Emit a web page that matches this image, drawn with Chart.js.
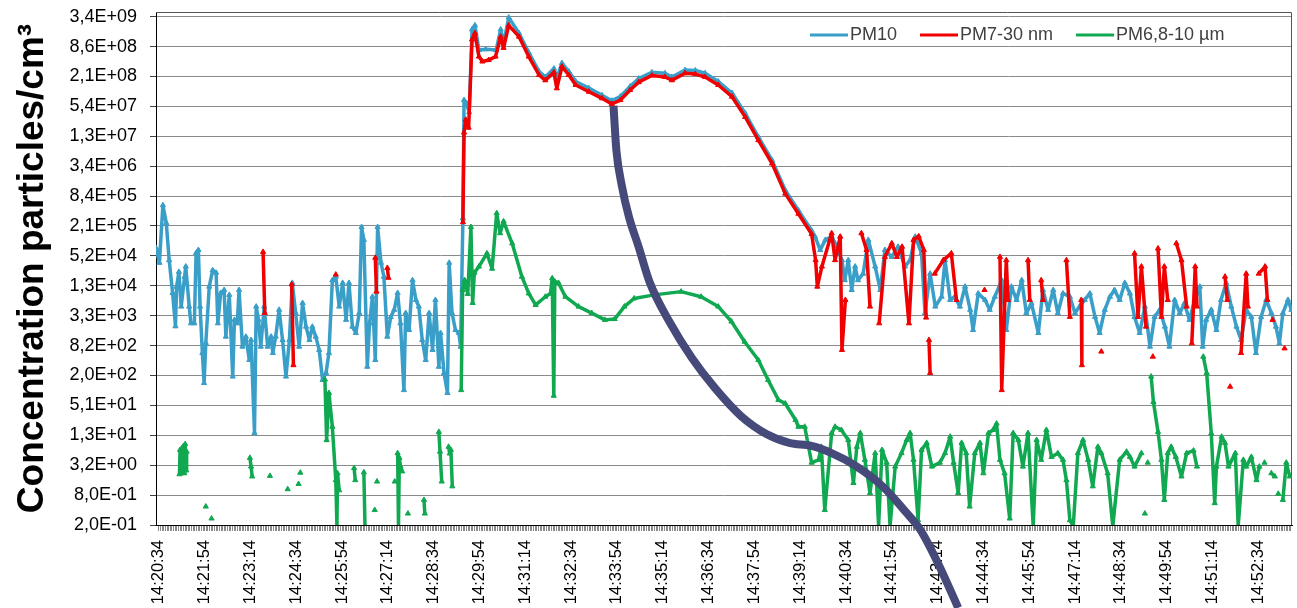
<!DOCTYPE html>
<html><head><meta charset="utf-8">
<script src="https://cdn.jsdelivr.net/npm/chart.js"></script>
<style>html,body{margin:0;padding:0;background:#fff;}canvas{display:block;}</style>
</head><body>
<canvas id="c" width="1297" height="608"></canvas>
<script>
// ---- data (x = seconds after 14:20:34, y = particles/cm3) ----
const timeLabels = ['14:20:34','14:21:54','14:23:14','14:24:34','14:25:54','14:27:14','14:28:34','14:29:54','14:31:14','14:32:34','14:33:54','14:35:14','14:36:34','14:37:54','14:39:14','14:40:34','14:41:54','14:43:14','14:44:34','14:45:54','14:47:14','14:48:34','14:49:54','14:51:14','14:52:34'];
const yTickValues = [0.2,0.8,3.2,12.8,51.2,204.8,819.2,3276.8,13107.2,52428.8,209715.2,838860.8,3355443.2,13421772.8,53687091.2,214748364.8,858993459.2,3435973836.8];
const yTickLabels = ['2,0E-01','8,0E-01','3,2E+00','1,3E+01','5,1E+01','2,0E+02','8,2E+02','3,3E+03','1,3E+04','5,2E+04','2,1E+05','8,4E+05','3,4E+06','1,3E+07','5,4E+07','2,1E+08','8,6E+08','3,4E+09'];
const seriesNames = ['PM10','PM7-30 nm','PM6,8-10 µm'];
const yTitle = 'Concentration particles/cm³';

const pm10 = [
[-5,7.6e4],[1,3.8e4],[7,5.5e5],[13,2.4e5],[18,4.3e4],[24,9.4e3],[29,2.0e3],[31,1.26e4],[35,2.5e4],[39,5.0e3],[45,2.0e4],[47,3.2e4],[53,5.0e3],[56,2.3e3],[62,2.3e3],[65,6.0e4],[69,6.9e4],[72,5.0e3],[76,580],[79,144],[82,925],[88,1.26e4],[94,2.7e4],[100,2.4e4],[103,2.3e3],[108,9.4e3],[114,1.08e4],[117,1.24e3],[123,8.6e3],[129,195],[132,2.7e3],[137,2.3e3],[140,1.08e4],[146,780],[152,1.24e3],[158,420],[161,1.06e3],[167,14.2],[170,5.0e3],[174,2.7e3],[178,780],[184,5.0e3],[190,780],[196,1.24e3],[199,580],[204,1.24e3],[210,4.3e3],[216,1.06e3],[222,195],[228,1.06e3],[233,1.5e4],[239,3.7e3],[245,780],[251,5.9e3],[257,1.97e3],[263,1.06e3],[268,1.97e3],[274,1.24e3],[280,670],[286,166],[292,230],[297,580],[303,1.7e4],[309,2.0e4],[315,5.0e3],[321,1.5e4],[327,2.7e3],[332,1.5e4],[338,1.97e3],[344,1.47e3],[350,3.7e3],[354,2.0e5],[358,1.1e5],[364,307],[368,2.3e3],[373,7.9e3],[378,420],[382,2.0e5],[388,3.8e4],[393,2.0e4],[399,1.24e3],[405,3.1e3],[411,4.3e3],[417,9.4e3],[422,2.3e3],[428,104],[431,3.7e3],[437,1.69e3],[443,1.7e4],[449,6.8e3],[454,5.0e3],[460,1.06e3],[466,420],[472,3.7e3],[478,670],[483,6.8e3],[489,307],[492,1.47e3],[498,230],[504,91],[507,3.8e4],[512,3.7e3],[518,1.69e3],[524,1.47e3],[527,780],
[531,3.0e5],[533,7.2e7],[537,6.3e7],[542,4.1e7],[547,1.9e9],[552,2.3e9],[559,7.3e8],[571,7.6e8],[589,7.3e8],[597,1.9e9],[602,1.0e9],[611,3.3e9],[629,1.6e9],[646,6.5e8],[664,2.7e8],[675,2.1e8],[690,3.1e8],[695,2.0e8],[704,4.0e8],[716,2.7e8],[728,1.7e8],[751,1.25e8],[774,9.0e7],[791,7.0e7],[806,8.5e7],[823,1.35e8],[838,1.95e8],[861,2.6e8],[884,2.5e8],[896,2.1e8],[919,2.9e8],[937,2.85e8],[954,2.5e8],[977,1.7e8],[1001,1.0e8],[1024,3.9e7],[1047,1.3e7],[1071,4.4e6],[1094,1.1e6],[1117,4.3e5],[1140,1.7e5],
[1146,1.28e5],[1155,6.9e4],[1164,1.1e5],[1175,1.28e5],[1181,9.4e4],[1193,4.3e4],[1198,1.7e4],[1204,4.3e4],[1210,1.08e4],[1216,3.2e4],[1221,1.7e4],[1230,2.3e4],[1239,1.1e5],[1251,3.2e4],[1260,1.08e4],[1268,6.9e4],[1280,5.0e4],[1291,8.0e4],[1303,3.2e4],[1312,4.3e4],[1321,1.28e5],[1332,5.9e4],[1338,3.7e3],[1347,2.3e4],[1356,5.0e3],[1367,7.9e3],[1373,4.3e4],[1382,6.8e3],[1390,7.9e3],[1399,5.0e3],[1408,1.26e4],[1417,4.3e3],[1422,1.69e3],[1431,9.2e3],[1443,6.8e3],[1451,4.3e3],[1460,7.9e3],[1472,1.7e4],[1480,1.69e3],[1489,1.26e4],[1498,6.8e3],[1507,1.7e4],[1515,3.7e3],[1524,5.8e3],[1536,1.47e3],[1544,1.08e4],[1553,4.3e3],[1562,1.08e4],[1570,3.7e3],[1579,9.2e3],[1591,7.9e3],[1600,3.7e3],[1608,5.0e3],[1617,6.8e3],[1626,9.2e3],[1635,3.1e3],[1643,1.47e3],[1652,4.3e3],[1661,7.9e3],[1669,1.08e4],[1678,6.8e3],[1687,1.5e4],[1696,9.2e3],[1704,3.1e3],[1713,1.47e3],[1722,5.0e3],[1731,780],[1739,3.1e3],[1748,4.3e3],[1757,1.97e3],[1765,780],[1774,6.8e3],[1783,3.7e3],[1791,5.8e3],[1800,2.7e3],[1809,6.8e3],[1818,1.26e4],[1823,780],[1829,2.7e3],[1838,4.3e3],[1847,1.69e3],[1855,6.8e3],[1864,1.5e4],[1873,5.0e3],[1882,1.97e3],[1890,1.06e3],[1899,4.3e3],[1908,3.1e3],[1916,580],[1925,3.1e3],[1934,6.8e3],[1943,3.7e3],[1951,1.97e3],[1957,910],[1963,3.7e3],[1972,6.8e3],[1978,4.3e3]
];

const pm7_30 = [
[182,6.3e4],[185,3.7e3],[186,null],
[232,1.4e4],[235,330],[236,null],
[309,2.2e4],[310,null],
[378,4.8e4],[380,1.0e4],[381,null],
[399,3.0e4],[401,1.9e4],[402,null],
[531,2.5e5],[533,1.6e7],[536,2.9e7],[541,2.0e7],[547,1.2e9],[552,1.6e9],[559,5.4e8],[565,4.3e8],[576,4.6e8],[588,5.4e8],[597,1.36e9],[602,8.1e8],[611,2.3e9],[629,1.36e9],[646,5.4e8],[664,2.3e8],[675,1.8e8],[690,2.6e8],[695,1.24e8],[704,3.4e8],[716,2.3e8],[728,1.45e8],[751,1.06e8],[774,7.8e7],[791,6.0e7],[806,7.2e7],[823,1.15e8],[838,1.65e8],[861,2.25e8],[884,2.1e8],[896,1.8e8],[919,2.5e8],[937,2.4e8],[954,2.1e8],[977,1.45e8],[1001,8.4e7],[1024,3.3e7],[1047,1.12e7],[1071,3.8e6],[1094,9.4e5],[1117,3.7e5],[1140,1.45e5],
[1147,4.3e4],[1150,1.26e4],[1158,3.2e4],[1175,1.5e5],[1181,4.3e4],[1190,1.28e5],[1193,670],[1199,6.8e3],[1200,null],
[1227,1.5e5],[1236,6.9e4],[1242,5.0e3],[1243,null],
[1258,2.3e3],[1268,5.0e4],[1280,9.4e4],[1289,5.0e4],[1298,8.0e4],[1310,2.3e3],[1318,1.1e5],[1327,1.3e5],[1336,6.9e4],[1340,3.0e3],[1341,null],
[1345,1.06e3],[1347,230],[1348,null],
[1355,2.3e4],[1370,4.3e4],[1384,5.9e4],[1393,6.8e3],[1394,null],
[1442,1.08e4],[1443,null],
[1469,5.0e4],[1472,104],[1480,4.3e4],[1483,6.8e3],[1484,null],
[1518,4.3e4],[1521,6.8e3],[1522,null],
[1541,1.7e4],[1544,6.8e3],[1545,null],
[1585,4.3e4],[1591,3.1e3],[1592,null],
[1611,6.8e3],[1612,330],[1613,null],
[1646,620],[1647,null],
[1704,5.9e4],[1710,3.1e3],[1716,3.2e4],[1724,1.97e3],[1725,null],
[1736,490],[1737,null],
[1745,7.4e4],[1751,3.1e3],[1756,3.2e4],[1762,6.8e3],[1763,null],
[1777,9.4e4],[1786,4.3e4],[1795,5.0e3],[1796,null],
[1804,910],[1810,3.2e4],[1813,5.0e3],[1814,null],
[1862,2.0e4],[1866,6.8e3],[1867,null],
[1871,122],[1872,null],
[1890,580],[1899,2.3e4],[1902,5.0e3],[1903,null],
[1921,2.3e4],[1932,3.2e4],[1936,6.8e3],[1937,null],
[1945,2.7e3],[1946,null],
[1966,720]
];

const pm68_10 = [
[36,2.1],[37,6.5],[38.5,2.2],[40,7.0],[41.5,2.4],[43,7.8],[44.5,2.2],[46,8.5],[47.5,2.5],[48.5,6.0],[49,null],
[82,0.47],[83,null],
[92,0.27],[93,null],
[159,4.5],[161,3.0],[163,1.9],[164,null],
[194,1.95],[195,null],
[225,1.05],[226,null],
[244,1.34],[245.5,null],[247,2.26],[248,null],
[290,170],[293,10.2],[297,91],[303,19],[309,1.6],[311,0.19],[312,2.2],[315,1.0],[316,null],
[341,2.8],[343,1.6],[344,null],
[358,2.3],[360,0.19],[361,null],
[377,0.4],[378,null],
[381,1.5],[382,null],
[412,1.5],[413,null],
[417,5.6],[418.5,0.19],[420,4.5],[422,3.0],[425,2.4],[426,null],
[435,0.34],[436,null],
[463,0.64],[464.5,0.34],[465,null],
[489,15],[491,6],[494,1.5],[495,null],
[506,7.5],[508,5.5],[510,6.5],[512.5,1.2],[513,null],
[528,104],[530.5,1.08e4],[534,1.7e4],[539.5,9.0e3],[545,2.0e5],[548,5.9e3],[551,2.4e4],[559,3.2e4],[573,5.9e4],[582,2.9e4],[590,3.8e5],[596,1.5e5],[602,2.6e5],[617,9.4e4],[634,2.0e4],[646,9.2e3],[658,5.4e3],[675,7.9e3],[684,9.2e3],[687,1.86e4],[689.7,80],[691.5,1.6e4],[698,1.5e4],[710,7.9e3],[733,5.0e3],[756,3.7e3],[779,2.7e3],[796,2.8e3],[813,5.0e3],[830,7.3e3],[865,8.6e3],[912,1.0e4],[947,7.9e3],[977,5.0e3],[1000,2.5e3],[1023,980],[1047,420],[1064,166],[1082,66],[1094,56],[1112,26],[1117,19],[1128,19],[1140,3.6],[1152,4.1],[1157,7.5],[1163,0.4],[1175,14.2],[1181,19],[1192,16.4],[1204,10.3],[1213,1.4],[1219,7.5],[1225,14.2],[1233,4.1],[1242,0.88],[1251,5.6],[1257,0.19],[1263,6.5],[1271,3.6],[1277,0.19],[1286,3.0],[1297,5.6],[1306,10.3],[1312,14.2],[1318,4.1],[1326,0.25],[1332,6.5],[1341,9.0],[1350,3.0],[1364,3.6],[1373,5.6],[1382,12],[1388,3.6],[1396,0.88],[1402,9.0],[1410,5.6],[1416,0.47],[1425,5.6],[1434,9.0],[1440,2.2],[1449,14.2],[1457,16.4],[1463,22],[1469,4.1],[1477,2.2],[1486,0.27],[1492,14.2],[1501,10.3],[1509,3.0],[1518,14.2],[1527,0.19],[1533,10.3],[1541,4.1],[1550,16.4],[1559,4.7],[1570,5.6],[1579,4.1],[1585,1.6],[1591,0.25],[1597,0.19],[1605,5.6],[1614,10.3],[1623,4.1],[1631,1.2],[1640,7.5],[1646,5.6],[1657,2.2],[1666,0.19],[1678,4.1],[1690,6.0],[1696,4.7],[1704,3.0],[1716,5.6],[1717,null],
[1722,0.34],[1723,null],
[1727,3.6],[1728,null],
[1733,195],[1737,60],[1745,15],[1751,4.1],[1756,0.64],[1762,5.6],[1768,7.5],[1776,4.7],[1786,1.9],[1795,5.6],[1807,6.3],[1813,3.0],[1814,null],
[1824,490],[1830,230],[1838,14],[1844,0.55],[1847,3.0],[1856,12],[1862,9.0],[1868,3.0],[1880,5.6],[1885,0.19],[1894,4.1],[1899,3.0],[1908,4.7],[1917,1.6],[1922,3.0],[1923,null],
[1931,3.6],[1932,null],
[1943,2.2],[1949,1.9],[1950,null],
[1955,0.85],[1956,null],
[1963,0.64],[1969,3.6],[1975,1.9]
];

// hand-drawn annotation curve
const trendCurve = [[794,5.5e7],[799,7.1e6],[809,1.28e6],[821,3.2e5],[838,7.9e4],[857,1.56e4],[892,2.44e3],[931,461],[971,115],[1017,31],[1061,13.6],[1101,9.0],[1140,7.8],[1175,5.6],[1217,3.1],[1264,1.2],[1306,0.35],[1330,0.16],[1363,0.030],[1396,0.0043]];

// ---- chart ----
const FONT = "'Liberation Sans', Arial, sans-serif";
const COLORS = { pm10: '#3a9fc8', pm7: '#f00000', pm68: '#10a850', curve: '#464a7a' };
const toXY = arr => arr.map(([x, y]) => ({x, y}));
const TICK_STEP = 80 / 28;

const frameLegend = {
  id: 'frameLegend',
  beforeDatasetsDraw(chart) {
    const {ctx, chartArea: a} = chart;
    ctx.save();
    ctx.strokeStyle = '#555';
    ctx.lineWidth = 1;
    ctx.beginPath();
    ctx.moveTo(a.left, Math.round(a.top) + 0.5);
    ctx.lineTo(Math.round(a.right) - 0.5, Math.round(a.top) + 0.5);
    ctx.lineTo(Math.round(a.right) - 0.5, a.bottom);
    ctx.stroke();
    ctx.restore();
  },
  afterDraw(chart) {
    const {ctx, chartArea: a} = chart;
    const items = [[seriesNames[0], COLORS.pm10], [seriesNames[1], COLORS.pm7], [seriesNames[2], COLORS.pm68]];
    ctx.save();
    ctx.font = '18px ' + FONT;
    ctx.textBaseline = 'middle';
    let x = a.right - 482;
    const y = a.top + 23;
    for (const [name, color] of items) {
      ctx.strokeStyle = color;
      ctx.lineWidth = 3;
      ctx.beginPath();
      ctx.moveTo(x, y); ctx.lineTo(x + 38, y);
      ctx.stroke();
      ctx.fillStyle = '#404040';
      ctx.fillText(name, x + 40, y);
      x += 40 + ctx.measureText(name).width + 23;
    }
    ctx.restore();
  }
};

const seriesStyle = (color) => ({
  borderColor: color, backgroundColor: color,
  pointBackgroundColor: color, pointBorderColor: color,
  borderWidth: 3.5, pointStyle: 'triangle', pointRadius: 3, pointBorderWidth: 1,
  borderJoinStyle: 'round', tension: 0, spanGaps: false
});

new Chart(document.getElementById('c'), {
  type: 'line',
  data: {
    datasets: [
      { label: 'curve', data: toXY(trendCurve), borderColor: COLORS.curve, borderWidth: 8, pointRadius: 0,
        cubicInterpolationMode: 'monotone', capBezierPoints: false, clip: false, order: 0 },
      Object.assign({ label: seriesNames[2], data: toXY(pm68_10), order: 1 }, seriesStyle(COLORS.pm68)),
      Object.assign({ label: seriesNames[1], data: toXY(pm7_30), order: 2 }, seriesStyle(COLORS.pm7)),
      Object.assign({ label: seriesNames[0], data: toXY(pm10), order: 3 }, seriesStyle(COLORS.pm10))
    ]
  },
  options: {
    responsive: false, animation: false, devicePixelRatio: 1, events: [],
    layout: { padding: { left: 0, right: 3, top: 12, bottom: 0 } },
    plugins: { legend: { display: false }, tooltip: { enabled: false } },
    scales: {
      x: {
        type: 'linear', min: -5, max: 1979,
        afterBuildTicks: s => { const t = []; for (let k = 0; k * TICK_STEP <= 1979; k++) t.push({value: k * TICK_STEP}); s.ticks = t; },
        afterFit: s => { s.height = 83; s.paddingLeft = 0; s.paddingRight = 0; },
        ticks: {
          autoSkip: false, minRotation: 90, maxRotation: 90, padding: 9, color: '#000',
          font: { size: 16.5, family: FONT },
          callback: (v, i) => (i % 28 === 0 && timeLabels[i / 28]) ? timeLabels[i / 28] : ''
        },
        grid: { drawOnChartArea: false, drawTicks: true, tickLength: 6, tickColor: '#8a8a8a' },
        border: { color: '#000', width: 1 }
      },
      y: {
        type: 'logarithmic', min: 0.2, max: 4.27e9,
        afterBuildTicks: s => { s.ticks = yTickValues.map(v => ({value: v})); },
        afterFit: s => { s.width = 156; s.paddingTop = 0; s.paddingBottom = 0; },
        ticks: { autoSkip: false, padding: 13, color: '#000', font: { size: 18, family: FONT },
          callback: (v, i) => yTickLabels[i] },
        grid: { color: '#8a8a8a', lineWidth: 1, tickColor: '#404040', tickLength: 6, drawTicks: true },
        border: { color: '#000', width: 1 },
        title: { display: true, text: yTitle, color: '#000', font: { size: 37, weight: 'bold', family: FONT },
          padding: { top: 11, bottom: 0 } }
      }
    }
  },
  plugins: [frameLegend]
});
</script>
</body></html>
